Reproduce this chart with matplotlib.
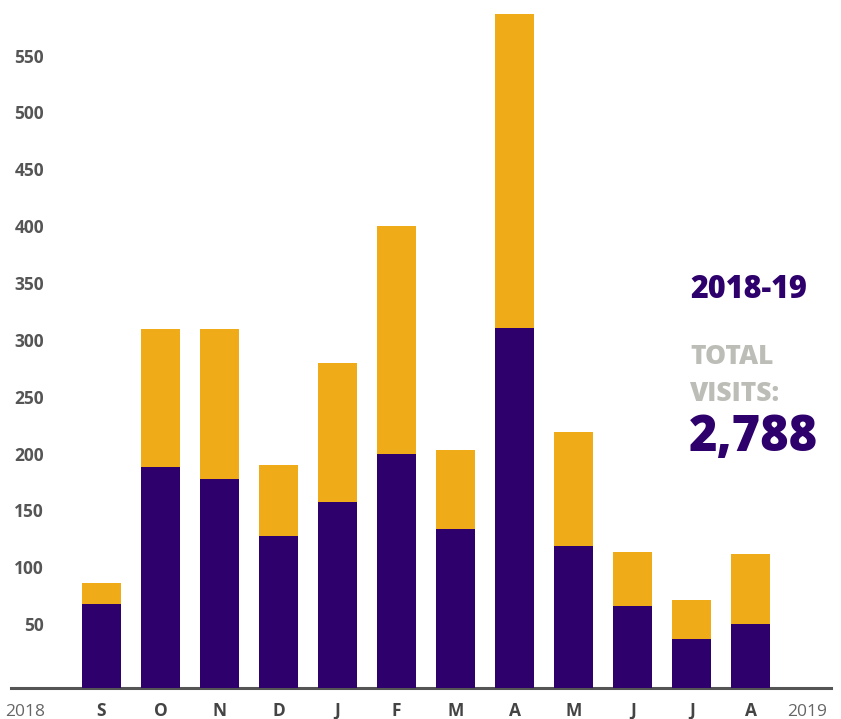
import matplotlib.pyplot as plt
from matplotlib.transforms import blended_transform_factory

# Données : visites par mois (2018-19)
months = ["S", "O", "N", "D", "J", "F", "M", "A", "M", "J", "J", "A"]
purple_vals = [74, 194, 184, 134, 164, 206, 140, 317, 125, 72, 43, 56]
orange_vals = [18, 122, 132, 62, 122, 200, 69, 276, 100, 48, 34, 62]
yticks = [50, 100, 150, 200, 250, 300, 350, 400, 450, 500, 550]
total_visits = "2,788"

purple = "#2e006c"
orange = "#f0ab18"
grey_lbl = "#555555"

plt.rcParams['font.family'] = ['Open Sans', 'DejaVu Sans']

fig = plt.figure(figsize=(8.41, 7.19), dpi=100)
ax = fig.add_axes([11 / 841, 31 / 719, 820 / 841, 688 / 719])

x = list(range(len(months)))
ax.bar(x, purple_vals, width=0.66, color=purple, zorder=3)
ax.bar(x, orange_vals, width=0.66, bottom=purple_vals, color=orange, zorder=3)

ax.set_xlim(-1.534, 12.36)
ax.set_ylim(0, 605)

for s in ["top", "right", "left"]:
    ax.spines[s].set_visible(False)
ax.spines["bottom"].set_color("#555555")
ax.spines["bottom"].set_linewidth(2.2)
ax.spines["bottom"].set_zorder(1)

# axe Y : étiquettes à l'intérieur, posées sur la valeur (ligne de base)
ax.set_yticks(yticks)
ax.set_yticklabels([str(v) for v in yticks])
ax.tick_params(axis="y", length=0, pad=-23.8, labelsize=12.5, labelcolor=grey_lbl)
for lbl in ax.get_yticklabels():
    lbl.set_fontweight("bold")
    lbl.set_va("baseline")

ax.set_xticks(x)
ax.set_xticklabels(months)
ax.tick_params(axis="x", length=0, pad=10, labelsize=12.5, labelcolor="#444444")
for lbl in ax.get_xticklabels():
    lbl.set_fontweight("bold")

trans = blended_transform_factory(ax.transData, ax.transAxes)
ax.text(-1.3, -0.035, "2018", transform=trans, ha="center", va="center",
        fontsize=12.5, color="#666666")
ax.text(11.95, -0.035, "2019", transform=trans, ha="center", va="center",
        fontsize=12.5, color="#666666")

# Encadré texte à droite
fig.text(690 / 841, 1 - 290 / 719, "2018-19", fontsize=22, fontweight=800,
         color=purple, va="center", ha="left")
fig.text(690 / 841, 1 - 357 / 719, "TOTAL", fontsize=19, fontweight=800,
         color="#bdbdb8", va="center", ha="left")
fig.text(690 / 841, 1 - 394 / 719, "VISITS:", fontsize=19, fontweight=800,
         color="#bdbdb8", va="center", ha="left")
fig.text(689 / 841, 1 - 438 / 719, total_visits, fontsize=35, fontweight=800,
         color=purple, va="center", ha="left")

fig.savefig("out.png", dpi=100)
